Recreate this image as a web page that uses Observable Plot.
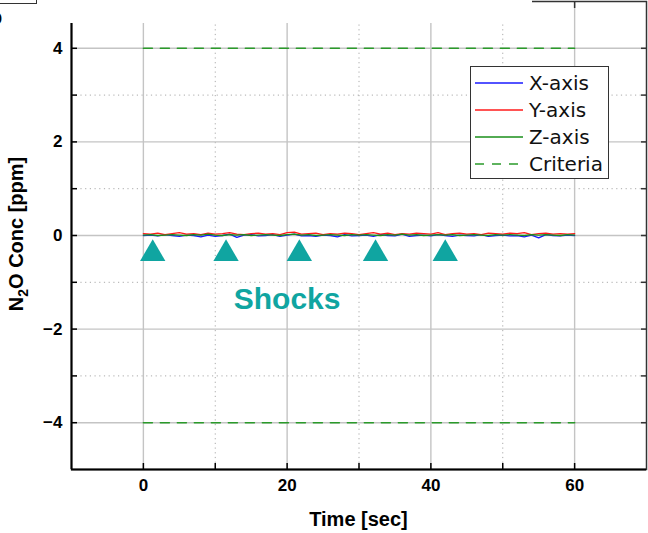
<!DOCTYPE html>
<html><head><meta charset="utf-8">
<script src="https://cdn.jsdelivr.net/npm/d3@7"></script>
<script src="https://cdn.jsdelivr.net/npm/@observablehq/plot@0.6"></script>
<style>
html,body{margin:0;padding:0;background:#fff;}
#wrap{position:relative;width:648px;height:533px;overflow:hidden;}
#legend{position:absolute;left:470px;top:66px;width:137px;height:111px;border:1.5px solid #333;background:#fff;font-family:"DejaVu Sans",sans-serif;font-size:20px;color:#111;}
#legend .row{position:absolute;left:3px;height:26px;display:flex;align-items:center;}
#legend svg{margin-right:5px;}
#cover{position:absolute;left:0;top:0;width:532px;height:23px;background:#fff;}
#pbox{position:absolute;left:-2px;top:-10px;width:37px;height:12px;border:1.2px solid #333;background:#fff;}
#plabel{position:absolute;left:-10px;top:6px;font:bold 20px "Liberation Sans",Arial,sans-serif;}
</style></head>
<body><div id="wrap"><div id="chart"></div><div id="cover"></div><div id="pbox"></div><div id="plabel">b</div><div id="legend"></div></div>
<script>
const time = d3.range(0, 61);
const xAxisVals = [0.00,0.01,-0.01,0.02,0.00,-0.02,0.01,0.00,-0.03,0.01,-0.02,0.00,0.03,-0.04,0.01,0.02,-0.01,0.00,0.02,-0.02,0.01,0.03,-0.01,0.00,-0.02,0.01,0.00,-0.03,0.02,-0.01,0.00,0.01,-0.02,0.02,0.00,-0.01,0.03,-0.02,0.00,0.01,-0.01,0.02,0.00,-0.02,0.01,0.00,-0.01,0.02,-0.02,0.00,0.01,-0.01,0.00,-0.03,0.01,-0.05,0.02,0.00,-0.01,0.01,0.00];
const yAxisVals = [0.04,0.03,0.05,0.02,0.04,0.06,0.03,0.04,0.02,0.05,0.03,0.04,0.06,0.03,0.02,0.04,0.05,0.03,0.04,0.02,0.06,0.07,0.03,0.04,0.05,0.02,0.04,0.03,0.05,0.04,0.02,0.04,0.06,0.03,0.05,0.02,0.04,0.03,0.05,0.04,0.03,0.06,0.02,0.04,0.05,0.03,0.04,0.02,0.05,0.04,0.03,0.05,0.04,0.06,0.02,0.04,0.05,0.03,0.04,0.03,0.04];
const zAxisVals = [0.01,0.02,0.00,0.01,0.02,0.01,0.00,0.02,0.01,0.03,0.01,0.00,0.02,0.01,0.02,0.00,0.01,0.02,0.01,0.00,0.02,0.03,0.01,0.02,0.00,0.01,0.02,0.01,0.00,0.02,0.01,0.02,0.01,0.00,0.02,0.01,0.03,0.01,0.02,0.00,0.01,0.02,0.01,0.02,0.00,0.01,0.02,0.01,0.00,0.02,0.01,0.02,0.01,0.00,0.02,0.01,0.02,0.01,0.00,0.02,0.01];
const criteriaLevels = [4, -4];
const criteriaRange = [0, 60];
const shockTimes = [1.3, 11.5, 21.7, 32.3, 42.0];
const shockLevel = -0.39;
const shockLabel = {text: "Shocks", x: 20, y: -1.37};
const xMajor = [0, 20, 40, 60];
const xMinor = [10, 30, 50];
const yMajor = [-4, -2, 0, 2, 4];
const yMinor = [-3, -1, 1, 3];
const seriesNames = ["X-axis", "Y-axis", "Z-axis"];
const seriesColors = ["#1a1aff", "#ff1a1a", "#1a8f1a"];
const criteriaColor = "#2a9a2a";
const teal = "#10a5a1";
const xTitle = "Time [sec]";

const seriesVals = [xAxisVals, yAxisVals, zAxisVals];
const lineData = seriesNames.flatMap((s, i) => time.map((t, j) => ({t, v: seriesVals[i][j], s})));
const critData = criteriaLevels.flatMap(c => criteriaRange.map(t => ({t, v: c, c})));

const fontFam = '"Liberation Sans", Arial, sans-serif';
const plot = Plot.plot({
  width: 648, height: 533,
  marginLeft: 71, marginRight: 2, marginTop: 1, marginBottom: 64,
  style: {fontFamily: fontFam, background: "#fff"},
  x: {domain: [-10, 70]},
  y: {domain: [-5, 5]},
  marks: [
    Plot.gridX(xMinor, {stroke: "#aaa", strokeOpacity: 1, strokeDasharray: "1.2,3.5", strokeWidth: 1}),
    Plot.gridY(yMinor, {stroke: "#aaa", strokeOpacity: 1, strokeDasharray: "1.2,3.5", strokeWidth: 1}),
    Plot.gridX(xMajor, {stroke: "#c4c4c4", strokeOpacity: 1, strokeWidth: 1.4}),
    Plot.gridY(yMajor, {stroke: "#c4c4c4", strokeOpacity: 1, strokeWidth: 1.4}),
    Plot.line(critData, {x: "t", y: "v", z: "c", stroke: criteriaColor, strokeWidth: 1.6, strokeDasharray: "9,8"}),
    Plot.line(lineData, {x: "t", y: "v", z: "s", stroke: d => seriesColors[seriesNames.indexOf(d.s)], strokeWidth: 1.3}),
    Plot.dot(shockTimes, {x: d => d, y: () => shockLevel, symbol: "triangle", r: 9.4, fill: teal, stroke: "none"}),
    Plot.text([shockLabel], {x: "x", y: "y", text: "text", fill: teal, fontSize: 30, fontWeight: "bold", fontFamily: fontFam, letterSpacing: 1.3}),
    Plot.frame({stroke: "#333", strokeWidth: 1.5}),
    Plot.ruleX([-10], {stroke: "#000", strokeWidth: 2}),
    Plot.ruleY([-5], {stroke: "#000", strokeWidth: 2}),
    // inward ticks
    Plot.axisX(xMajor.concat(xMinor), {anchor: "bottom", tickSize: -6, text: null, label: null, stroke: "#000", strokeWidth: 1.5}),
    Plot.axisX(xMajor.concat(xMinor), {anchor: "top", tickSize: -6, text: null, label: null, stroke: "#333", strokeWidth: 1.5}),
    Plot.axisY(yMajor.concat(yMinor), {anchor: "left", tickSize: -6, text: null, label: null, stroke: "#000", strokeWidth: 1.5}),
    Plot.axisY(yMajor.concat(yMinor), {anchor: "right", tickSize: -6, text: null, label: null, stroke: "#333", strokeWidth: 1.5}),
    // tick labels
    Plot.axisX(xMajor, {anchor: "bottom", tickSize: 0, tickPadding: 9, fontSize: 17, fontWeight: "bold", label: null, fill: "#000"}),
    Plot.axisY(yMajor, {anchor: "left", tickSize: 0, tickPadding: 9, fontSize: 17, fontWeight: "bold", tickFormat: d => d < 0 ? "\u2212" + Math.abs(d) : String(d), label: null, fill: "#000"})
  ]
});
document.getElementById("chart").appendChild(plot);

const svg = d3.select(plot);
// x-axis title
svg.append("text")
  .attr("x", (71 + 646) / 2).attr("y", 519).attr("dy", "0.35em")
  .attr("text-anchor", "middle")
  .attr("font-family", fontFam).attr("font-weight", "bold").attr("font-size", 20)
  .attr("fill", "#000").text(xTitle);
// y-axis title with subscript
const yt = svg.append("text")
  .attr("transform", "translate(16,234) rotate(-90)")
  .attr("text-anchor", "middle").attr("dy", "0.35em")
  .attr("font-family", fontFam).attr("font-weight", "bold").attr("font-size", 20)
  .attr("fill", "#000");
yt.append("tspan").text("N");
yt.append("tspan").attr("font-size", 14).attr("dy", 5).text("2");
yt.append("tspan").attr("dy", -5).text("O Conc [ppm]");

// legend
const legendEntries = seriesNames.map((n, i) => ({name: n, color: seriesColors[i], dash: null}))
  .concat([{name: "Criteria", color: criteriaColor, dash: "9,8"}]);
const lg = document.getElementById("legend");
legendEntries.forEach((e, i) => {
  const row = document.createElement("div");
  row.className = "row";
  row.style.top = (3 + i * 27) + "px";
  row.innerHTML = `<svg width="50" height="10"><line x1="1" x2="49" y1="5" y2="5" stroke="${e.color}" stroke-width="1.6" ${e.dash ? `stroke-dasharray="${e.dash}"` : ""}/></svg><span>${e.name}</span>`;
  lg.appendChild(row);
});
</script></body></html>
